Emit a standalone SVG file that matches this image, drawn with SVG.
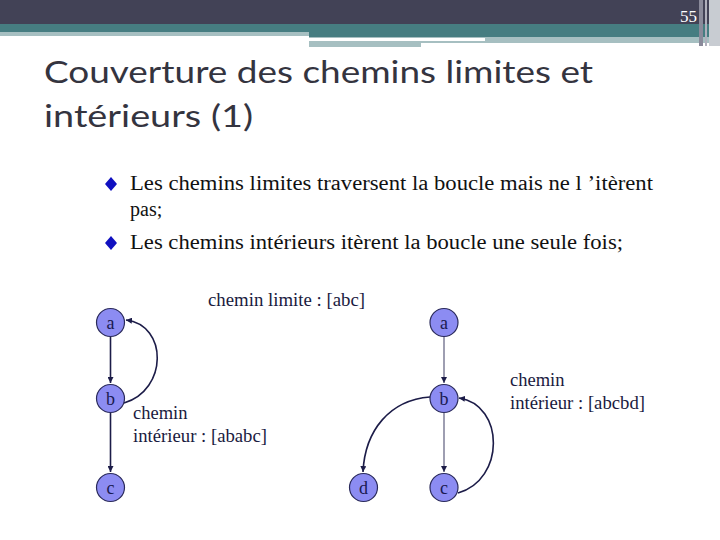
<svg xmlns="http://www.w3.org/2000/svg" width="720" height="540" viewBox="0 0 720 540">
<defs>
<style>
.title{font-family:Lato,"Open Sans",sans-serif;font-size:31px;fill:#34343f}
.body{font-family:"Liberation Serif",serif;font-size:20px;fill:#111}
.lbl{font-family:"Liberation Serif",serif;font-size:18.5px;fill:#1a1a40}
.node circle{fill:#8c8cf2;stroke:#2a2a5a;stroke-width:1.2}
.node text{font-family:"Liberation Serif",serif;font-size:18px;fill:#1a1a50;text-anchor:middle}
.e{fill:none;stroke:#1c1c48;stroke-width:1.6}
.g{fill:none;stroke:#6a6a88;stroke-width:1.3}
</style>
<marker id="ah" viewBox="0 0 10 10" refX="10" refY="5" markerWidth="6" markerHeight="6" orient="auto" markerUnits="userSpaceOnUse">
<path d="M0,0 L10,5 L0,10 z" fill="#1c1c48"/>
</marker>
</defs>
<rect width="720" height="540" fill="#fff"/>
<g id="header">
<rect x="0" y="0" width="720" height="24" fill="#424256"/>
<rect x="0" y="24" width="720" height="9" fill="#467d81"/>
<rect x="0" y="32" width="309" height="4" fill="#a6bfc1"/>
<rect x="309" y="32" width="400" height="5" fill="#467d81"/>
<rect x="309" y="37" width="400" height="10" fill="#a6bfc1"/>
<rect x="309" y="38" width="176" height="3" fill="#ffffff"/>
<rect x="421" y="43" width="288" height="4" fill="#ffffff"/>
<rect x="699" y="0" width="4" height="46" fill="#8a8a9a"/>
<rect x="705" y="0" width="2" height="46" fill="#b0b0bc"/>
<rect x="709" y="0" width="11" height="46" fill="#c8ccd2"/>
<text x="697" y="22" text-anchor="end" font-family="Liberation Serif,serif" font-size="17" fill="#fff">55</text>
</g>
<g id="title">
<text class="title" x="44" y="83" textLength="549" lengthAdjust="spacingAndGlyphs">Couverture des chemins limites et</text>
<text class="title" x="44" y="127" textLength="209" lengthAdjust="spacingAndGlyphs">intérieurs (1)</text>
</g>
<g id="bullets">
<path d="M111,177 L117,184 L111,191 L105,184 z" fill="#1010c0"/>
<text class="body" x="130" y="190" textLength="523" lengthAdjust="spacingAndGlyphs">Les chemins limites traversent la boucle mais ne l ’itèrent</text>
<text class="body" x="130" y="216">pas;</text>
<path d="M111,236 L117,243 L111,250 L105,243 z" fill="#1010c0"/>
<text class="body" x="130" y="249" textLength="493" lengthAdjust="spacingAndGlyphs">Les chemins intérieurs itèrent la boucle une seule fois;</text>
</g>
<g id="connectors">
<line class="e" x1="110.5" y1="337" x2="110.5" y2="383" marker-end="url(#ah)"/>
<line class="e" x1="110.5" y1="413" x2="110.5" y2="472" marker-end="url(#ah)"/>
<path class="e" d="M124,403 C168,390 168,325 126,320" marker-end="url(#ah)"/>
<line class="g" x1="444" y1="337" x2="444" y2="383" marker-end="url(#ah)"/>
<line class="g" x1="444" y1="413" x2="444" y2="472" marker-end="url(#ah)"/>
<path class="e" d="M430,397 C390,400 365,430 363,472" marker-end="url(#ah)"/>
<path class="e" d="M458,493 C505,480 505,405 459,398" marker-end="url(#ah)"/>
</g>
<g id="node-a1" class="node"><circle cx="110.5" cy="322.5" r="14"/><text x="110.5" y="328.5">a</text></g>
<g id="node-b1" class="node"><circle cx="110.5" cy="398.5" r="14"/><text x="110.5" y="404.5">b</text></g>
<g id="node-c1" class="node"><circle cx="110.5" cy="487.5" r="14"/><text x="110.5" y="493.5">c</text></g>
<g id="node-a2" class="node"><circle cx="444" cy="322.5" r="14"/><text x="444" y="328.5">a</text></g>
<g id="node-b2" class="node"><circle cx="444" cy="398.5" r="14"/><text x="444" y="404.5">b</text></g>
<g id="node-c2" class="node"><circle cx="444" cy="487.5" r="14"/><text x="444" y="493.5">c</text></g>
<g id="node-d2" class="node"><circle cx="363.5" cy="487.5" r="14"/><text x="363.5" y="493.5">d</text></g>
<g id="labels">
<text class="lbl" x="208" y="306" textLength="157" lengthAdjust="spacingAndGlyphs">chemin limite : [abc]</text>
<text class="lbl" x="133" y="419">chemin</text>
<text class="lbl" x="133" y="442" textLength="134" lengthAdjust="spacingAndGlyphs">intérieur : [ababc]</text>
<text class="lbl" x="510" y="386">chemin</text>
<text class="lbl" x="510" y="409" textLength="135" lengthAdjust="spacingAndGlyphs">intérieur : [abcbd]</text>
</g>
</svg>
